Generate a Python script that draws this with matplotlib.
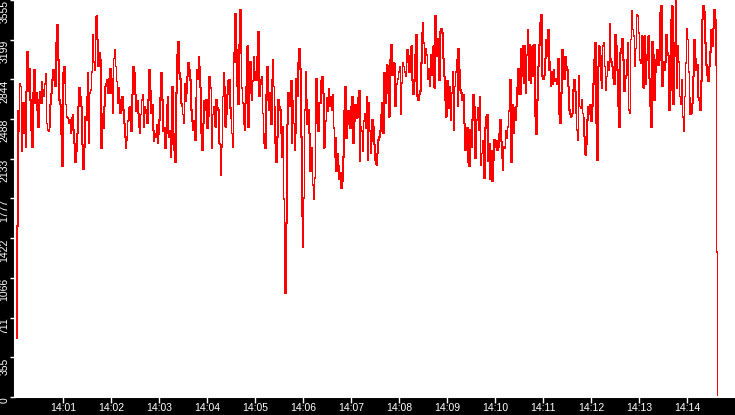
#!/usr/bin/env python3

import matplotlib
matplotlib.use("Agg")
import matplotlib.pyplot as plt
import matplotlib.dates as mdates
import pandas as pd

# samples, left to right
seg_1 = [530, 1530, 2560, 2380, 2800, 2780, 2200, 2630, 2360, 2630, 2240, 2735, 3090, 2735, 2940, 2660,
         2390, 2240, 2720, 2930, 2630, 2720, 2570, 2420, 2660, 2735, 2630, 2825, 2750, 2690, 2800, 2890,
         2450, 2390, 2380, 2420, 2620, 2720, 2840, 2930, 2885, 2780, 3170, 3330, 3020, 2660, 2620, 2350,
         2070, 2900, 2960, 2810, 2620, 2510, 2500, 2450, 2480, 2360, 2500, 2530, 2390, 2270, 2100, 2200,
         2360, 2600, 2765, 2690, 2600, 2260, 2040, 2240, 2510, 2480, 2690, 2900, 2270, 2720, 2750, 2910,
         3240, 3000, 2930, 3210, 3410, 3200, 2960, 3080, 3020, 2230, 2540, 2410, 2600, 2780, 2800, 2840,
         2720, 2850, 2940, 2720, 2850, 2540, 3030, 3110, 2960, 2825, 2630]
seg_2 = [2770, 2660, 2540, 2600, 2690, 2570, 2450, 2330, 2230, 2300, 2470, 2590, 2480, 2600, 2380, 2710,
         2960, 2900, 2710, 2560, 2650, 2540, 2420, 2360, 2530, 2660, 2710, 2420, 2600, 2540, 2570, 2450,
         2660, 2930, 2740, 2540, 2620, 2390, 2290, 2360, 2330, 2440, 2270, 2350, 2480, 2680, 2900, 2660,
         2380, 2410, 2230, 2360, 2620, 2690, 2330, 2380, 2150, 2260, 2780, 2360, 2210, 2100, 2720, 3060,
         3180, 2900, 2850, 2630, 2600, 2530, 2450, 2800, 2650, 2720, 2870, 2990, 2930, 2840, 2570, 2470,
         2390, 2470, 2300, 2680, 2930, 2850, 3050, 2960, 2770, 2360, 2210, 2450, 2650, 2570, 2660, 2410,
         2510, 2870, 2850, 2770, 2230, 2530, 2540, 2600, 2420, 2660, 2590, 2570, 2270]
seg_3 = [2260, 1990, 2240, 2690, 2900, 2780, 2420, 2530, 2710, 2830, 2840, 2590, 2500, 2360, 2240, 3080,
         3000, 3430, 3110, 2780, 2620, 3150, 3470, 3080, 2770, 2630, 2440, 2390, 2630, 2780, 3140, 2420,
         2780, 3000, 2720, 2660, 2830, 3050, 2840, 2910, 2840, 3050, 3270, 2690, 2800, 2840, 2870, 2540,
         2270, 2360, 2230, 2710, 2960, 2660, 2570, 2720, 2440, 2840, 3020, 2780, 2600, 2270, 2100, 2330,
         2660, 2600, 2570, 2360, 2150, 2420, 1770, 1080, 930, 1560, 2440, 2720, 2600, 2660, 2830, 2270,
         2650, 2450, 2210, 2360, 2850, 2690, 2990, 3120, 2940, 2330, 1620, 1340, 1780, 2570, 2910, 2660,
         2440, 2570, 2360, 2020, 2230, 2170, 1900, 1770, 1960, 2450, 2850, 2470, 2380, 2630]
seg_4 = [2630, 2830, 2870, 2720, 2230, 2290, 2470, 2680, 2560, 2760, 2600, 2690, 2570, 2710, 2410, 2150,
         2320, 2020, 2180, 2070, 1950, 2010, 1870, 1930, 2150, 2560, 2780, 2320, 2440, 2560, 2500, 2410,
         2600, 2690, 2270, 2470, 2620, 2570, 2500, 2680, 2740, 2110, 2420, 2380, 2200, 2470, 2540, 2410,
         2690, 2120, 2630, 2380, 2180, 2290, 2480, 2420, 2260, 2120, 2080, 2180, 2300, 2330, 2380, 2530,
         2630, 2360, 2900, 2630, 2780, 2970, 2720, 2510, 3020, 3150, 2880, 2930, 2990, 2600, 2740, 2800,
         2850, 2910, 2960, 2530, 2810, 2990, 2960, 2910, 2870, 3000, 3110, 3050, 2910, 3060, 3140, 2840,
         2710, 2830, 3060, 3240, 2690, 2660, 2710]
seg_5 = [2740, 2990, 3260, 3350, 3170, 2990, 3120, 3060, 2850, 2940, 2780, 3060, 2990, 2880, 3140, 2770,
         3410, 3200, 3050, 3210, 2840, 3270, 3300, 3260, 3030, 2870, 2660, 2510, 2830, 2690, 2590, 2780,
         2480, 2720, 2910, 2390, 2780, 2910, 3020, 2600, 3120, 2930, 2750, 2720, 2660, 2710, 2450, 2210,
         2380, 2410, 2100, 2070, 2390, 2240, 2480, 2710, 2600, 2140, 2360, 2480, 2590, 2390, 2690, 2080,
         2180, 2290, 2270, 1960, 2410, 2510, 2530, 2110, 2270, 1950, 2200, 1930, 2120, 2300, 2240, 2290,
         2210, 2240, 2360, 2480, 2290, 2140, 2030, 2240, 2230, 2380, 2320, 2420, 2560, 2590, 2840, 2100,
         2620, 2360, 2590, 2480, 2600, 2770, 2940, 2710]
seg_6 = [2710, 3120, 2870, 3140, 2810, 3140, 2720, 3060, 3290, 2840, 3150, 2810, 2960, 3140, 2870, 3150,
         2510, 2350, 2660, 2960, 3150, 3350, 3420, 2870, 2850, 2880, 3030, 3200, 3050, 3290, 2930, 3000,
         2780, 2910, 2800, 2930, 2830, 2850, 2800, 2930, 3030, 2530, 2450, 2720, 3110, 2910, 2850, 3050,
         2960, 2930, 2780, 2570, 2530, 2510, 2540, 2750, 2840, 2740, 2540, 2390, 2300, 2880, 2600, 2590,
         2660, 2540, 2500, 2330, 2170, 2260, 2480, 2600, 2530, 2620, 2470, 2600, 2800, 3020, 3170, 2450,
         2120, 2960, 3140, 3060, 2840, 2770, 3140, 3170, 2960, 2750, 2870, 3000, 2930, 3340, 3030, 3000,
         2960, 2850, 2800, 3240, 3140, 2930, 2600, 2420]
seg_7 = [3080, 3120, 3210, 3020, 2740, 2850, 2880, 3020, 3170, 2570, 2540, 3200, 3460, 3290, 3230, 2960,
         3120, 3420, 3410, 3260, 3020, 2990, 3230, 3140, 2770, 3230, 2800, 3060, 3020, 3230, 2850, 2600,
         2420, 3180, 3060, 2660, 2910, 3020, 3110, 2970, 3020, 3440, 3500, 2780, 3000, 2930, 3000, 3240,
         3080, 3060, 2570, 2750, 3380, 3500, 2620, 3170, 3050, 3555, 2770, 3140, 3000, 2690, 2620, 2840,
         2510, 2380, 2690, 2990, 3300, 3200, 2910, 2680, 2530, 2540, 2630, 2870, 3200, 3030, 2930, 2970,
         2680, 2660, 2570, 2830, 3380, 3500, 3450, 3170, 2970, 2880, 2830, 2960, 3090, 3290, 3140, 3300,
         3470, 3380, 2970]
tail = [1300, 0]

segments = [seg_1, seg_2, seg_3, seg_4, seg_5, seg_6, seg_7, tail]
seg_spans = [
    ("14:00:01", "14:02:08"),
    ("14:02:09", "14:04:15"),
    ("14:04:16", "14:06:20"),
    ("14:06:21", "14:08:25"),
    ("14:08:26", "14:10:30"),
    ("14:10:31", "14:12:35"),
    ("14:12:36", "14:14:36"),
    ("14:14:37", "14:14:38"),
]
day = "2024-01-01 "
x_start = "14:00:00"
x_end = "14:15:00"
x_ticks = ["14:%02d" % m for m in range(1, 15)]

y_max = 3555
y_labels = ["0", "355", "711", "1066", "1422", "1777", "2133", "2488", "2844", "3199", "3555"]


def build_series():
    times = []
    values = []
    for seg, (t0, t1) in zip(segments, seg_spans):
        times.extend(pd.date_range(day + t0, day + t1, periods=len(seg)))
        values.extend(seg)
    return times, values


def main():
    times, values = build_series()

    fig = plt.figure(figsize=(7.35, 4.15), dpi=100, facecolor="black")
    ax = fig.add_axes([15 / 735, 18 / 415, 720 / 735, 397 / 415])
    ax.set_facecolor("white")
    ax.plot(times, values, color="#ff0000", linewidth=0.5, antialiased=False,
            drawstyle="steps-post")

    ax.set_xlim(pd.Timestamp(day + x_start), pd.Timestamp(day + x_end))
    ax.set_ylim(0, y_max)
    ax.set_xticks(pd.to_datetime([day + t for t in x_ticks]))
    ax.xaxis.set_major_formatter(mdates.DateFormatter("%H:%M"))
    ax.set_yticks([y_max * i / 10 for i in range(11)])
    ax.set_yticklabels(y_labels, rotation=90, va="top",
                       family=["Liberation Sans Narrow", "Liberation Sans", "DejaVu Sans"])
    for label in ax.get_xticklabels():
        label.set_family(["Liberation Sans", "DejaVu Sans"])

    ax.tick_params(axis="both", colors="white", width=1)
    ax.tick_params(axis="y", length=3.6, pad=0.5, labelsize=7.5)
    ax.tick_params(axis="x", length=4, pad=0.5, labelsize=7.5)
    for side in ("top", "right"):
        ax.spines[side].set_visible(False)
    for side in ("left", "bottom"):
        ax.spines[side].set_color("white")
        ax.spines[side].set_linewidth(1.5)

    fig.savefig("out.png", dpi=100, facecolor="black")
    plt.close(fig)


if __name__ == "__main__":
    main()
